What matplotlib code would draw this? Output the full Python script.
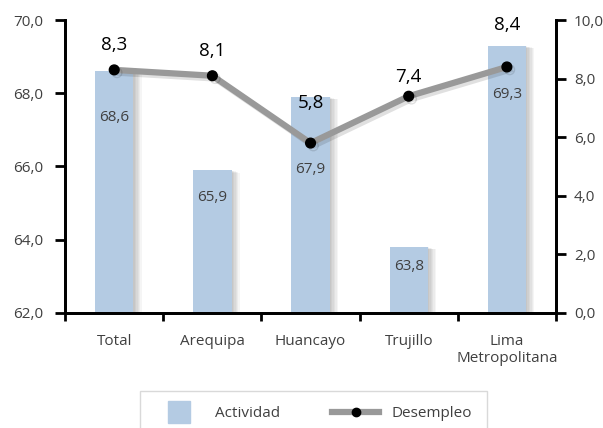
import matplotlib.pyplot as plt
import matplotlib.patheffects as pe
from matplotlib.lines import Line2D
import numpy as np

plt.rcParams['font.family'] = ['Open Sans', 'DejaVu Sans']

ciudades = ['Total', 'Arequipa', 'Huancayo', 'Trujillo', 'Lima\nMetropolitana']
actividad = [68.6, 65.9, 67.9, 63.8, 69.3]
desempleo = [8.3, 8.1, 5.8, 7.4, 8.4]

# label offsets (points)
off_bar = [-33, -20, -52, -14, -35]
off_line = [18, 18, 29, 14, 30]

bar_color = '#b4cbe3'
line_color = '#999999'
text_color = '#404040'

fig = plt.figure(figsize=(6.03, 4.28), dpi=100)
ax = fig.add_axes([0.108, 0.269, 0.814, 0.684])
ax2 = ax.twinx()

x = np.arange(len(ciudades))

shadow = [pe.SimplePatchShadow(offset=(k, -k * 0.3), shadow_rgbFace='k', alpha=0.04)
          for k in (1, 2, 3, 4, 5, 6)] + [pe.Normal()]
bars = ax.bar(x, actividad, width=0.39, bottom=0, color=bar_color, zorder=2)
for b in bars:
    b.set_path_effects(shadow)

ax.set_xlim(-0.5, len(ciudades) - 0.5)
ax.set_ylim(62, 70)
ax.set_yticks(np.arange(62, 70.1, 2))
ax.set_yticklabels([f'{v:.1f}'.replace('.', ',') for v in np.arange(62, 70.1, 2)])
ax.set_xticks(x)
ax.set_xticklabels(ciudades)
ax.set_xticks(np.arange(-0.5, len(ciudades), 1), minor=True)
ax.tick_params(axis='x', which='major', length=0, pad=15, labelsize=11, labelcolor=text_color)
ax.tick_params(axis='x', which='minor', length=6, width=2, direction='out', color='black')
ax.tick_params(axis='y', length=7, width=2, labelsize=11, labelcolor=text_color, pad=9)

for xi, v, o in zip(x, actividad, off_bar):
    ax.annotate(f'{v:.1f}'.replace('.', ','), (xi, v), xytext=(0, o), textcoords='offset points',
                ha='center', va='center', fontsize=11, color=text_color, zorder=5)

ax2.plot(x, desempleo, color=line_color, lw=4.5, marker='o', markersize=7,
         markerfacecolor='black', markeredgecolor='black', zorder=3,
         path_effects=[pe.SimpleLineShadow(offset=(2, -2), alpha=0.12), pe.Normal()])
ax2.set_ylim(0, 10)
ax2.set_yticks(np.arange(0, 10.1, 2))
ax2.set_yticklabels([f'{v:.1f}'.replace('.', ',') for v in np.arange(0, 10.1, 2)])
ax2.tick_params(axis='y', length=7, width=2, labelsize=11, labelcolor=text_color, pad=6)

for xi, v, o in zip(x, desempleo, off_line):
    ax2.annotate(f'{v:.1f}'.replace('.', ','), (xi, v), xytext=(0, o), textcoords='offset points',
                 ha='center', va='center', fontsize=13.5, fontweight='medium', color='black')

for a in (ax, ax2):
    a.spines['top'].set_visible(False)
    for s in ('left', 'right', 'bottom'):
        a.spines[s].set_linewidth(2)
ax.set_zorder(ax2.get_zorder() - 1)
ax.patch.set_visible(True)
ax2.patch.set_visible(False)

h1 = Line2D([], [], linestyle='none', marker='s', markersize=16,
            markerfacecolor=bar_color, markeredgecolor=bar_color)
h2 = Line2D([], [], color=line_color, lw=4.5, marker='o', markersize=6,
            markerfacecolor='black', markeredgecolor='black')
leg = fig.legend([h1, h2], ['Actividad', 'Desempleo'], ncol=2, loc='upper center',
                 bbox_to_anchor=(0.52, 0.087), frameon=True, fancybox=False,
                 fontsize=11, handlelength=3.1, columnspacing=3.4, borderpad=1.0,
                 handletextpad=0.8, borderaxespad=0)
leg.get_frame().set_edgecolor('#d0d0d0')
for t in leg.get_texts():
    t.set_color(text_color)

fig.savefig('out.png', dpi=100)
